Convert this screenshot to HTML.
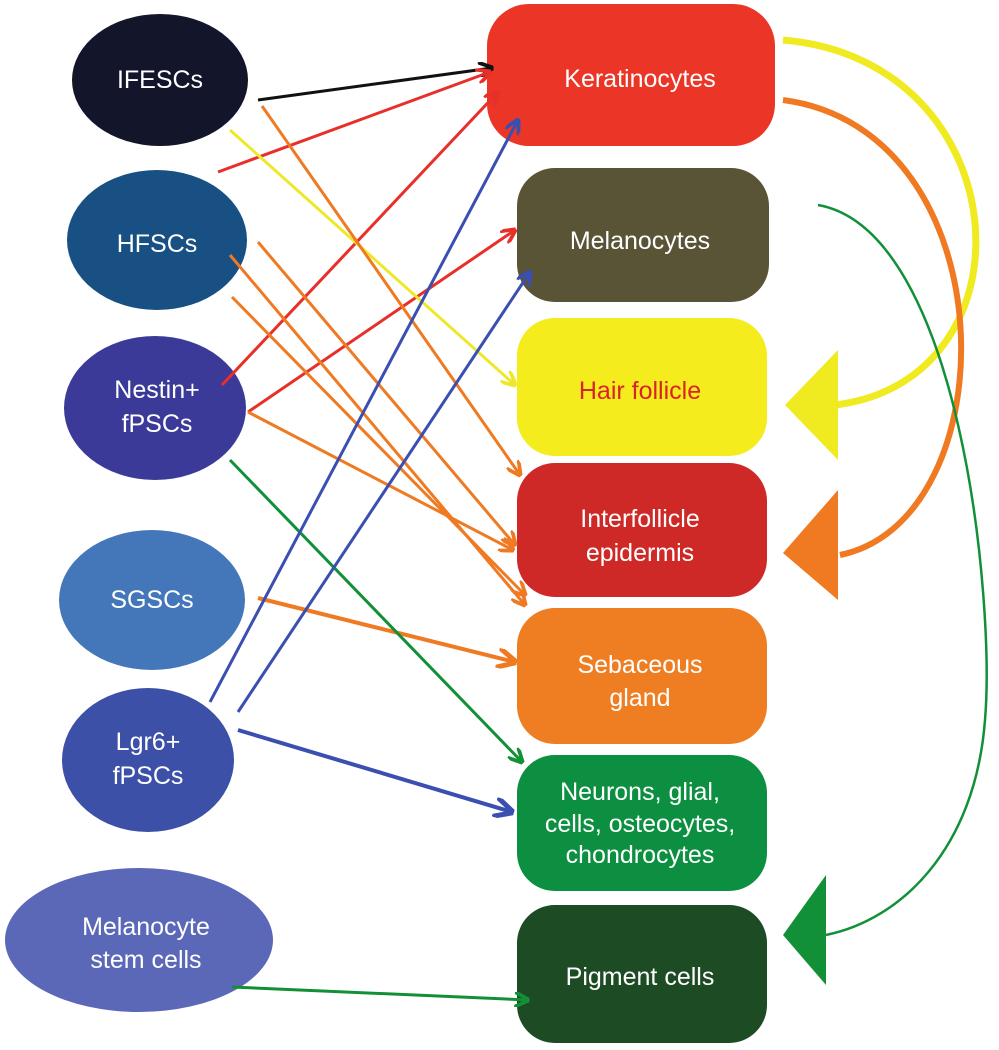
<!DOCTYPE html>
<html><head><meta charset="utf-8"><style>
html,body{margin:0;padding:0;background:#fff;}
svg{display:block}
text{font-family:"Liberation Sans",sans-serif;fill:#fff;font-size:25px;text-anchor:middle;}
</style></head><body>
<svg width="999" height="1050" viewBox="0 0 999 1050" xmlns="http://www.w3.org/2000/svg">
<defs>
<marker id="a" viewBox="0 0 10 10" refX="9" refY="5" markerWidth="5" markerHeight="5" orient="auto"><path d="M0,0 L10,5 L0,10" fill="none" stroke="context-stroke" stroke-width="2.5"/></marker>
</defs>
<ellipse cx="160" cy="80" rx="88" ry="66" fill="#13152b"/>
<ellipse cx="157" cy="240" rx="90" ry="70" fill="#185083"/>
<ellipse cx="155" cy="408" rx="91" ry="72" fill="#3b3a98"/>
<ellipse cx="152" cy="600" rx="93" ry="70" fill="#4477ba"/>
<ellipse cx="148" cy="760" rx="86" ry="72" fill="#3c50a8"/>
<ellipse cx="139" cy="940" rx="134" ry="72" fill="#5b68b8"/>
<text x="160" y="88">IFESCs</text>
<text x="157" y="252">HFSCs</text>
<text x="157" y="398">Nestin+</text>
<text x="157" y="432">fPSCs</text>
<text x="152" y="608">SGSCs</text>
<text x="148" y="750">Lgr6+</text>
<text x="148" y="784">fPSCs</text>
<text x="146" y="935">Melanocyte</text>
<text x="146" y="968">stem cells</text>
<rect x="487" y="4" width="288" height="142" rx="42" fill="#eb3526"/>
<rect x="517" y="168" width="252" height="134" rx="38" fill="#5a5437"/>
<rect x="517" y="318" width="250" height="138" rx="38" fill="#f4ec1c"/>
<rect x="517" y="463" width="250" height="134" rx="38" fill="#cf2927"/>
<rect x="517" y="608" width="250" height="136" rx="38" fill="#ef7e22"/>
<rect x="517" y="755" width="250" height="136" rx="38" fill="#0d8f42"/>
<rect x="517" y="905" width="250" height="138" rx="38" fill="#1d4b24"/>
<text x="640" y="87">Keratinocytes</text>
<text x="640" y="249">Melanocytes</text>
<text x="640" y="399" style="fill:#d9232a">Hair follicle</text>
<text x="640" y="527">Interfollicle</text>
<text x="640" y="561">epidermis</text>
<text x="640" y="673">Sebaceous</text>
<text x="640" y="706">gland</text>
<text x="640" y="800">Neurons, glial,</text>
<text x="640" y="832">cells, osteocytes,</text>
<text x="640" y="863">chondrocytes</text>
<text x="640" y="985">Pigment cells</text>
<g fill="none" stroke-width="3" marker-end="url(#a)">
<line x1="258" y1="100" x2="492" y2="68" stroke="#111"/>
<line x1="218" y1="172" x2="490" y2="72" stroke="#e8302a"/>
<line x1="222" y1="385" x2="498" y2="92" stroke="#e8302a"/>
<line x1="248" y1="412" x2="515" y2="230" stroke="#e8302a"/>
<line x1="230" y1="130" x2="515" y2="385" stroke="#eee82a"/>
<line x1="262" y1="106" x2="520" y2="475" stroke="#ef7a22"/>
<line x1="230" y1="255" x2="525" y2="605" stroke="#ef7a22"/>
<line x1="258" y1="242" x2="515" y2="545" stroke="#ef7a22"/>
<line x1="232" y1="297" x2="525" y2="595" stroke="#ef7a22"/>
<line x1="248" y1="412" x2="513" y2="550" stroke="#ef7a22"/>
<line x1="258" y1="598" x2="515" y2="662" stroke="#ef7a22" stroke-width="4"/>
<line x1="230" y1="460" x2="522" y2="762" stroke="#129038"/>
<line x1="210" y1="702" x2="518" y2="120" stroke="#3b4fb0"/>
<line x1="238" y1="712" x2="530" y2="272" stroke="#3b4fb0"/>
<line x1="238" y1="730" x2="512" y2="812" stroke="#3b4fb0" stroke-width="4"/>
<line x1="232" y1="987" x2="528" y2="1000" stroke="#129038"/>
</g>
<path d="M783,40 C1020,60 1040,380 835,405" fill="none" stroke="#f0ea20" stroke-width="7"/>
<polygon points="785,405 838,350 838,460" fill="#f0ea20"/>
<path d="M783,100 C1010,130 1010,520 840,555" fill="none" stroke="#ef7a22" stroke-width="6"/>
<polygon points="783,553 838,490 838,600" fill="#ef7a22"/>
<path d="M818,205 C960,230 995,600 985,720 C975,850 900,920 826,935" fill="none" stroke="#129038" stroke-width="2.5"/>
<polygon points="783,935 826,875 826,985" fill="#129038"/>
</svg>
</body></html>
